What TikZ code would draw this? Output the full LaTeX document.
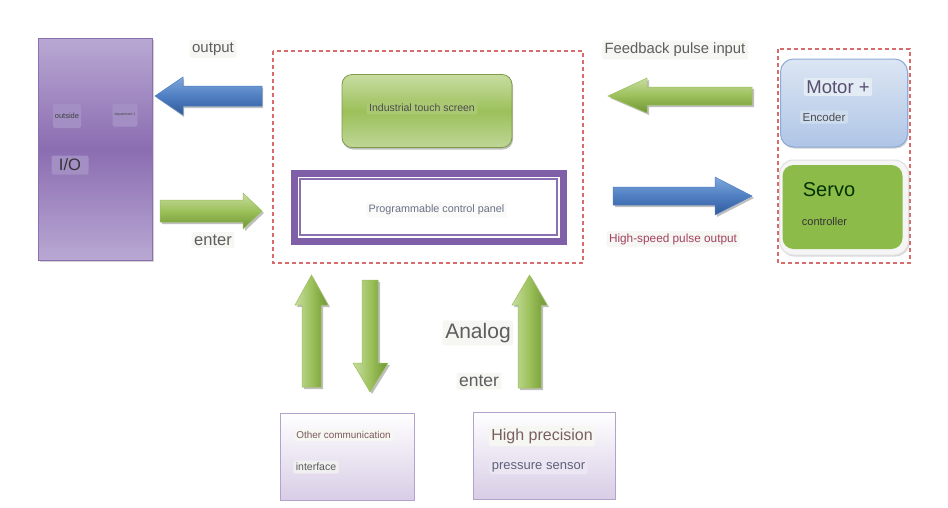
\documentclass[tikz,border=0pt]{standalone}
\usepackage{fontspec}
\setmainfont{Liberation Sans}
\usetikzlibrary{shadows}
\definecolor{iotop}{HTML}{B9A8D3}
\definecolor{iomid}{HTML}{8B6DB1}
\definecolor{ioedge}{HTML}{8A70B0}
\definecolor{iolbl}{HTML}{A38FC4}
\definecolor{gnlight}{HTML}{C8DDA2}
\definecolor{gnmid}{HTML}{9CC05A}
\definecolor{gndark}{HTML}{6E9634}
\definecolor{bllight}{HTML}{7FA7DB}
\definecolor{blmid}{HTML}{4F7FC2}
\definecolor{bldark}{HTML}{2F5A99}
\definecolor{dashred}{HTML}{D86B6B}
\definecolor{panel}{HTML}{7F5FA8}
\definecolor{lblbg}{HTML}{F6F6F3}
\definecolor{lbltxt}{HTML}{5E5E5E}
\definecolor{mottop}{HTML}{DCE6F3}
\definecolor{motbot}{HTML}{AFC5E6}
\definecolor{motedge}{HTML}{8EAAD6}
\definecolor{mottxt}{HTML}{574F6E}
\definecolor{paneltxt}{HTML}{6C7088}
\definecolor{servo}{HTML}{8DBB4A}
\definecolor{botbox}{HTML}{D8CDE6}
\definecolor{botedge}{HTML}{B3A2CC}
\definecolor{hsred}{HTML}{A3425F}
\tikzset{
  lbl/.style={fill=lblbg, rounded corners=2pt, inner sep=2.5pt, text=lbltxt},
  dashbox/.style={draw=dashred, dash pattern=on 4pt off 3pt, line width=1.1pt},
  hgreen/.style={top color=gnlight, bottom color=gndark, middle color=gnmid},
  vgreen/.style={left color=gnlight, right color=gndark, middle color=gnmid},
  hblue/.style={top color=bllight, bottom color=bldark, middle color=blmid},
  ashadow/.style={fill=black, opacity=0.25},
  botstyle/.style={top color=white, bottom color=botbox, draw=botedge, line width=0.8pt,
     drop shadow={shadow xshift=1pt, shadow yshift=-1pt, opacity=0.3}},
}
\begin{document}
\begin{tikzpicture}[x=1pt,y=-1pt]
\useasboundingbox (0,0) rectangle (948,507);
\fill[white] (0,0) rectangle (948,507);

% ---------- I/O box ----------
\node[draw=ioedge, line width=1pt, top color=iotop, bottom color=iotop, middle color=iomid,
      minimum width=114pt, minimum height=222pt, inner sep=0pt,
      drop shadow={shadow xshift=1.5pt, shadow yshift=-1.5pt, opacity=0.35}] (io) at (95,149) {};
\node[fill=iolbl, rounded corners=2pt, minimum width=28pt, minimum height=24pt, inner sep=0pt,
      text=black!75, font=\fontsize{7.5}{8}\selectfont] (outside) at (67,116) {outside};
\node[fill=iolbl, rounded corners=2pt, minimum width=25pt, minimum height=23pt, inner sep=0pt,
      text=black!75, font=\fontsize{3.5}{4}\selectfont] (dept) at (125,115) {department 1};
\node[fill=iolbl, rounded corners=2pt, minimum width=37pt, minimum height=19pt, inner sep=0pt,
      text=black!80, font=\fontsize{16.5}{18}\selectfont] (iolab) at (70,165) {I/O};

% ---------- left arrows ----------
\node[lbl, font=\fontsize{15}{17}\selectfont] (outlbl) at (213,49) {output};
\fill[ashadow] (263,88) -- (184,88) -- (184,79) -- (157,98) -- (184,117) -- (184,108) -- (263,108) -- cycle;
\path[hblue, draw=blmid, line width=0.5pt] (262,86) -- (183,86) -- (183,77) -- (155,96) -- (183,115) -- (183,106) -- (262,106) -- cycle;

\fill[ashadow] (162,202) -- (245,202) -- (245,195) -- (264,213) -- (245,231) -- (245,224) -- (162,224) -- cycle;
\path[hgreen, draw=gnmid, line width=0.5pt] (160,200) -- (243,200) -- (243,193) -- (262,211) -- (243,229) -- (243,222) -- (160,222) -- cycle;
\node[lbl, font=\fontsize{16.5}{18}\selectfont] (enterl) at (213,240) {enter};

% ---------- central group ----------
\draw[dashbox] (273,51) rectangle (583,263);
\node[draw=gnmid!80!black, line width=0.8pt, rounded corners=10pt, top color=gnlight, bottom color=gnlight!90!gndark,
      middle color=gnmid, minimum width=170pt, minimum height=73pt, inner sep=0pt,
      drop shadow={shadow xshift=1pt, shadow yshift=-2pt, opacity=0.5}] (touch) at (427,111) {};
\node[fill=gnmid!85!white, rounded corners=2pt, inner sep=2.5pt, text=black!70,
      font=\fontsize{10.5}{12}\selectfont] (touchlbl) at (422,108) {Industrial touch screen};

\node[draw=panel, line width=7pt, minimum width=269pt, minimum height=68pt, inner sep=0pt] (panel) at (429,207.5) {};
\draw[ioedge, line width=1.2pt] (300,179) rectangle (557,235);
\node[lbl, fill=lblbg!60!white, text=paneltxt, font=\fontsize{10.8}{12}\selectfont] (panellbl) at (436.5,210) {Programmable control panel};

% ---------- right group ----------
\node[lbl, font=\fontsize{14.8}{16}\selectfont] (fblbl) at (675,50) {Feedback pulse input};
\fill[ashadow] (754,89) -- (649,89) -- (649,80) -- (610,98) -- (649,115) -- (649,107) -- (754,107) -- cycle;
\path[hgreen, draw=gnmid, line width=0.5pt] (752,87) -- (647,87) -- (647,78) -- (608,96) -- (647,113) -- (647,105) -- (752,105) -- cycle;

\fill[ashadow] (615,189) -- (717,189) -- (717,179) -- (754,198) -- (717,217) -- (717,207) -- (615,207) -- cycle;
\path[hblue, draw=blmid, line width=0.5pt] (613,187) -- (715,187) -- (715,177) -- (752,196) -- (715,215) -- (715,205) -- (613,205) -- cycle;
\node[lbl, text=hsred, font=\fontsize{11.8}{13}\selectfont] (hslbl) at (673,239) {High-speed pulse output};

\draw[dashbox] (778,49) rectangle (910,263);
\node[draw=motedge, line width=1pt, rounded corners=13pt, top color=mottop, bottom color=motbot,
      minimum width=127pt, minimum height=88pt, inner sep=0pt,
      drop shadow={shadow xshift=1pt, shadow yshift=-1.5pt, opacity=0.35}] (motor) at (844,103) {};
\node[fill=mottop!80!white, rounded corners=2pt, inner sep=2.5pt, text=mottxt,
      font=\fontsize{18.5}{20}\selectfont] (motorlbl) at (838,87) {Motor +};
\node[fill=mottop!70!motbot, rounded corners=2pt, inner sep=2.5pt, text=black!70,
      font=\fontsize{11.5}{13}\selectfont] (enclbl) at (824,117) {Encoder};

\node[draw=black!12, line width=1pt, rounded corners=14pt, fill=black!4,
      minimum width=129pt, minimum height=95pt, inner sep=0pt,
      drop shadow={shadow xshift=1pt, shadow yshift=-1.5pt, opacity=0.3}] (servoout) at (844,207.5) {};
\node[fill=servo, rounded corners=11pt, minimum width=120pt, minimum height=84pt, inner sep=0pt] (servo) at (842.5,207) {};
\node[fill=servo, rounded corners=2pt, inner sep=2.5pt, text=black!80!green,
      font=\fontsize{20}{22}\selectfont] (servolbl) at (829,190) {Servo};
\node[fill=servo, rounded corners=2pt, inner sep=2.5pt, text=black!80,
      font=\fontsize{11}{12}\selectfont] (ctrllbl) at (824.5,222) {controller};

% ---------- vertical arrows ----------
\fill[ashadow] (304,389) -- (304,307) -- (297,307) -- (313,277) -- (330,307) -- (323,307) -- (323,389) -- cycle;
\path[vgreen, draw=gnmid, line width=0.5pt] (302,387) -- (302,305) -- (295,305) -- (311.5,275) -- (328,305) -- (321,305) -- (321,387) -- cycle;

\fill[ashadow] (364,282) -- (380,282) -- (380,365) -- (390,365) -- (372,394) -- (355,365) -- (364,365) -- cycle;
\path[vgreen, draw=gnmid, line width=0.5pt] (362,280) -- (378,280) -- (378,363) -- (388,363) -- (370,392) -- (353,363) -- (362,363) -- cycle;

\fill[ashadow] (520,390) -- (520,307) -- (514,307) -- (531.5,277) -- (549,307) -- (543,307) -- (543,390) -- cycle;
\path[vgreen, draw=gnmid, line width=0.5pt] (518,388) -- (518,305) -- (512,305) -- (529.5,275) -- (547,305) -- (541,305) -- (541,388) -- cycle;

\node[lbl, font=\fontsize{21}{23}\selectfont] (analog) at (478,333) {Analog};
\node[lbl, font=\fontsize{17.5}{19}\selectfont] (enterb) at (479,381) {enter};

% ---------- bottom boxes ----------
\node[botstyle, minimum width=134pt, minimum height=87pt, inner sep=0pt] (comm) at (347,456.5) {};
\node[lbl, text=black!55!red!30!gray, font=\fontsize{9.9}{11}\selectfont] (commlbl) at (343.5,435) {Other communication};
\node[lbl, fill=black!6, text=black!65, font=\fontsize{10.5}{12}\selectfont] (intlbl) at (316,467) {interface};

\node[botstyle, minimum width=142pt, minimum height=87pt, inner sep=0pt] (sensor) at (544,455.5) {};
\node[lbl, text=black!60!red!25!gray, font=\fontsize{16}{18}\selectfont] (hplbl) at (542,436) {High precision};
\node[lbl, fill=botbox!50!white, text=black!55!blue!25!gray, font=\fontsize{13}{15}\selectfont] (pslbl) at (538.5,467) {pressure sensor};
\end{tikzpicture}
\end{document}
